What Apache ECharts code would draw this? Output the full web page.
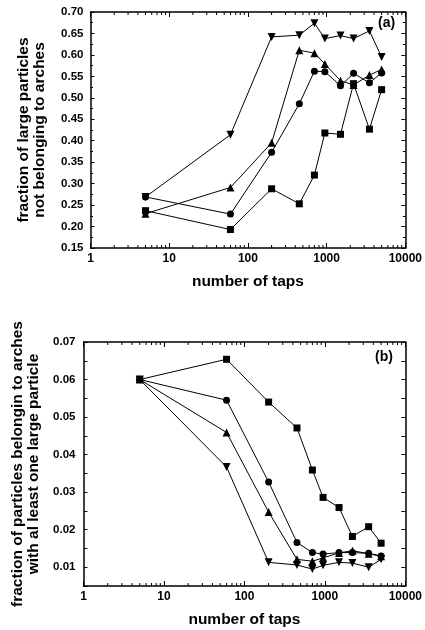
<!DOCTYPE html>
<html>
<head>
<meta charset="utf-8">
<script src="https://cdn.jsdelivr.net/npm/echarts@6/dist/echarts.min.js"></script>
<style>html,body{margin:0;padding:0;background:#fff;}#c{width:425px;height:630px;}</style>
</head>
<body>
<div id="c"></div>
<script>
const taps = [5, 60, 200, 450, 700, 950, 1500, 2200, 3500, 5000];

const aSquare   = [0.237, 0.193, 0.288, 0.253, 0.320, 0.418, 0.415, 0.533, 0.427, 0.519];
const aCircle   = [0.269, 0.229, 0.373, 0.486, 0.562, 0.561, 0.528, 0.557, 0.535, 0.558];
const aTriUp    = [0.230, 0.291, 0.395, 0.611, 0.604, 0.579, 0.540, 0.530, 0.553, 0.566];
const aTriDown  = [0.269, 0.414, 0.642, 0.646, 0.674, 0.638, 0.645, 0.638, 0.656, 0.595];

const bSquare   = [0.060, 0.0654, 0.0540, 0.0471, 0.0359, 0.0286, 0.0259, 0.0182, 0.0208, 0.0164];
const bCircle   = [0.060, 0.0545, 0.0327, 0.0166, 0.0139, 0.0135, 0.0139, 0.0139, 0.0137, 0.0130];
const bTriUp    = [0.060, 0.0459, 0.0247, 0.0121, 0.0116, 0.0125, 0.0138, 0.0144, 0.0136, 0.0129];
const bTriDown  = [0.060, 0.0367, 0.0113, 0.0106, 0.0095, 0.0105, 0.0113, 0.0111, 0.0100, 0.0121];

const xTickLabels = ['1', '10', '100', '1000', '10000'];
const logMinorTicks = [];
[1, 10, 100, 1000].forEach(d => { for (let k = 2; k <= 9; k++) logMinorTicks.push(d * k); });

const yA = {min: 0.15, max: 0.70, interval: 0.05};
const yB = {min: 0.005, max: 0.07, interval: 0.005};

const FONT = 'Liberation Sans, Arial, sans-serif';
const TITLE_SIZE = 15.5;
const chart = echarts.init(document.getElementById('c'));

function xAxisDef(gridIndex, pos, withLabel, name) {
  return {
    type: 'log', logBase: 10, min: 1, max: 10000, gridIndex: gridIndex, position: pos,
    axisLine: {show: true, onZero: false, lineStyle: {color: '#000', width: 1.5}},
    axisTick: {show: true, inside: true, length: 5, lineStyle: {color: '#000', width: 1}},
    splitLine: {show: false},
    axisLabel: {show: withLabel, color: '#000', fontFamily: FONT, fontWeight: 'bold', fontSize: 12, margin: 5,
      formatter: v => { const r = Math.round(v); return xTickLabels.indexOf(String(r)) >= 0 ? String(r) : ''; }},
    name: name || '', nameLocation: 'middle', nameGap: 26,
    nameTextStyle: {color: '#000', fontFamily: FONT, fontWeight: 'bold', fontSize: TITLE_SIZE}
  };
}
function yAxisDef(gridIndex, pos, withLabel, r, fmt, name, gap, margin, minor) {
  return {
    type: 'value', gridIndex: gridIndex, position: pos, min: r.min, max: r.max, interval: r.interval,
    axisLine: {show: true, onZero: false, lineStyle: {color: '#000', width: 1.5}},
    axisTick: {show: true, inside: true, length: 4, lineStyle: {color: '#000', width: 1}},
    minorTick: {show: !!minor, splitNumber: 2, length: 2.5, lineStyle: {color: '#000', width: 1}},
    splitLine: {show: false}, minorSplitLine: {show: false},
    axisLabel: {show: withLabel, color: '#000', fontFamily: FONT, fontWeight: 'bold', fontSize: 11.5, margin: margin, formatter: fmt},
    name: name || '', nameLocation: 'middle', nameGap: gap || 0, nameRotate: 90,
    nameTextStyle: {color: '#000', fontFamily: FONT, fontWeight: 'bold', fontSize: TITLE_SIZE, lineHeight: 16, align: 'center'}
  };
}

function line(name, xi, yi, vals, symbol, size, rotate) {
  return {
    type: 'line', name: name, xAxisIndex: xi, yAxisIndex: yi,
    data: taps.map((t, i) => [t, vals[i]]),
    symbol: symbol, symbolSize: size, symbolRotate: rotate || 0, showAllSymbol: true,
    lineStyle: {color: '#000', width: 1}, itemStyle: {color: '#000', borderColor: '#000', borderWidth: 0},
    emphasis: {disabled: true}, animation: false, z: 3
  };
}

function minorTickSeries(xi, yi, yr) {
  return {
    type: 'custom', xAxisIndex: xi, yAxisIndex: yi, clip: false, animation: false, silent: true,
    data: logMinorTicks.map(v => [v]),
    renderItem: function (params, api) {
      const v = api.value(0);
      const pb = api.coord([v, yr.min]);
      const pt = api.coord([v, yr.max]);
      return {type: 'group', children: [
        {type: 'line', shape: {x1: pb[0], y1: pb[1], x2: pb[0], y2: pb[1] - 3}, style: {stroke: '#000', lineWidth: 1}},
        {type: 'line', shape: {x1: pt[0], y1: pt[1], x2: pt[0], y2: pt[1] + 3}, style: {stroke: '#000', lineWidth: 1}}
      ]};
    }
  };
}

const fmtA = v => v.toFixed(2);
const fmtB = v => (Math.round(v * 1000) % 10 === 0 ? v.toFixed(2) : '');

chart.setOption({
  animation: false,
  backgroundColor: '#fff',
  grid: [
    {left: 90.5, right: 18, top: 12, height: 236},
    {left: 83.5, right: 16, top: 342, height: 244}
  ],
  xAxis: [
    xAxisDef(0, 'bottom', true, 'number of taps'),
    xAxisDef(0, 'top', false),
    xAxisDef(1, 'bottom', true, 'number of taps'),
    xAxisDef(1, 'top', false)
  ],
  yAxis: [
    yAxisDef(0, 'left', true, yA, fmtA, 'fraction of large particles\nnot belonging to arches', 43, 7, true),
    yAxisDef(0, 'right', false, yA, fmtA, '', 0, 7, true),
    yAxisDef(1, 'left', true, yB, fmtB, 'fraction of particles belongin to arches\nwith al least one large particle', 38, 8, false),
    yAxisDef(1, 'right', false, yB, fmtB, '', 0, 8, false)
  ],
  graphic: [
    {type: 'text', left: 378, top: 16, style: {text: '(a)', font: 'bold 14px ' + FONT, fill: '#000'}},
    {type: 'text', left: 375, top: 350, style: {text: '(b)', font: 'bold 14px ' + FONT, fill: '#000'}}
  ],
  series: [
    minorTickSeries(0, 0, yA),
    minorTickSeries(2, 2, yB),
    line('a-square', 0, 0, aSquare, 'rect', 7),
    line('a-triup', 0, 0, aTriUp, 'triangle', 8),
    line('a-tridown', 0, 0, aTriDown, 'triangle', 8, 180),
    line('a-circle', 0, 0, aCircle, 'circle', 7),
    line('b-square', 2, 2, bSquare, 'rect', 7),
    line('b-triup', 2, 2, bTriUp, 'triangle', 8),
    line('b-tridown', 2, 2, bTriDown, 'triangle', 8, 180),
    line('b-circle', 2, 2, bCircle, 'circle', 7)
  ]
});
</script>
</body>
</html>
